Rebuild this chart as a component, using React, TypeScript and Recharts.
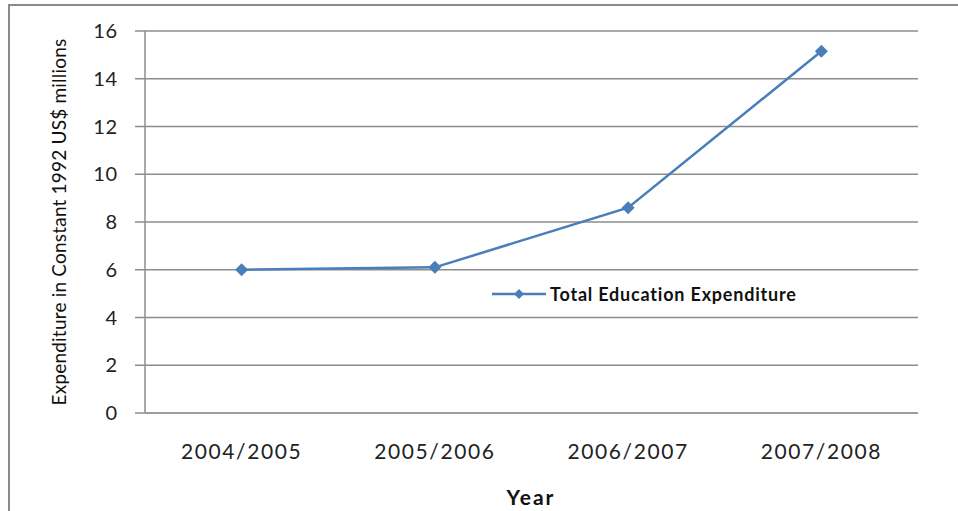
import { LineChart, Line, XAxis, YAxis, CartesianGrid } from "recharts";

const years = ["2004/2005", "2005/2006", "2006/2007", "2007/2008"];
const totalExpenditure = [6.0, 6.1, 8.6, 15.15];
const yTicks = [0, 2, 4, 6, 8, 10, 12, 14, 16];

const seriesName = "Total Education Expenditure";
const lineColor = "#4a7ebb";
const font = "Lato, 'Open Sans', sans-serif";

const data = years.map((year, i) => ({ year, value: totalExpenditure[i] }));

function Diamond(props: any) {
  const { cx, cy } = props;
  if (cx == null || cy == null) return null;
  const r = 6.5;
  return (
    <polygon
      points={`${cx},${cy - r} ${cx + r},${cy} ${cx},${cy + r} ${cx - r},${cy}`}
      fill={lineColor}
    />
  );
}

// legend sits inside the plot area, like the spreadsheet original
function LegendBox() {
  return (
    <div style={{ display: "flex", alignItems: "center", fontFamily: font }}>
      <svg width={56} height={14}>
        <line x1={0} y1={7} x2={54} y2={7} stroke={lineColor} strokeWidth={2.5} />
        <polygon points="27,2 32,7 27,12 22,7" fill={lineColor} />
      </svg>
      <span style={{ fontWeight: 700, fontSize: 18, letterSpacing: 0.8, color: "#111", marginLeft: 2 }}>
        {seriesName}
      </span>
    </div>
  );
}

export default function App() {
  return (
    <div style={{ position: "absolute", left: 0, top: 0, width: 958, height: 511, overflow: "hidden", background: "#fff" }}>
      <div
        style={{
          position: "absolute",
          left: 8,
          top: 4,
          width: 1100,
          height: 700,
          border: "2px solid #8a8a8a",
        }}
      />
      <div style={{ position: "absolute", left: 0, top: 0 }}>
        <LineChart width={958} height={511} data={data} margin={{ top: 31, right: 40, bottom: 68, left: 0 }}>
          <CartesianGrid vertical={false} stroke="#8c8c8c" strokeWidth={1.5} />
          <XAxis
            dataKey="year"
            scale="band"
            height={30}
            tickLine={false}
            tickSize={0}
            tickMargin={31}
            axisLine={{ stroke: "#9a9a9a", strokeWidth: 1.5 }}
            tick={{ fill: "#222", fontSize: 21, fontFamily: font, letterSpacing: 1.6 }}
            label={{
              content: () => (
                <text x={531} y={505} textAnchor="middle" fontFamily={font} fontWeight={700} fontSize={21} letterSpacing={2} fill="#111">
                  Year
                </text>
              ),
            }}
          />
          <YAxis
            width={145}
            domain={[0, 16]}
            ticks={yTicks}
            interval={0}
            tickSize={10}
            tickMargin={17}
            tickLine={{ stroke: "#8c8c8c", strokeWidth: 1.5 }}
            axisLine={{ stroke: "#8c8c8c", strokeWidth: 1.5 }}
            tick={{ fill: "#222", fontSize: 20, fontFamily: font, letterSpacing: 0.8 }}
            label={{
              content: () => (
                <text
                  x={66}
                  y={222}
                  transform="rotate(-90 66 222)"
                  textAnchor="middle"
                  fontFamily={font}
                  fontSize={19}
                  letterSpacing={0.2}
                  fill="#111"
                >
                  Expenditure in Constant 1992 US$ millions
                </text>
              ),
            }}
          />
          <Line
            type="linear"
            dataKey="value"
            name={seriesName}
            stroke={lineColor}
            strokeWidth={2.5}
            dot={<Diamond />}
            activeDot={false}
            isAnimationActive={false}
          />
        </LineChart>
      </div>
      <div style={{ position: "absolute", left: 492, top: 283 }}>
        <LegendBox />
      </div>
    </div>
  );
}
